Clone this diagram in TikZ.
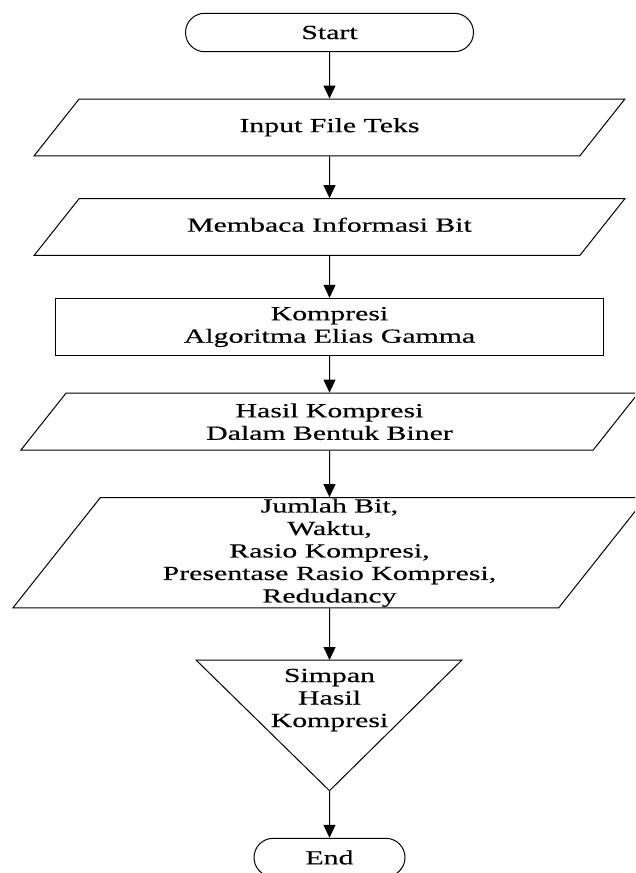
\documentclass[tikz,border=0pt]{standalone}
\usepackage{fontspec}
\setmainfont{Liberation Serif}[FakeStretch=1.49, FakeBold=0.4]
\usetikzlibrary{shapes.geometric, shapes.misc, arrows.meta}

\begin{document}
\begin{tikzpicture}[x=1pt, y=-1pt,
        every node/.style={font=\fontsize{20}{22.5}\selectfont, align=center, inner sep=0pt, line width=1pt},
        terminal/.style={draw, rounded rectangle, minimum height=38.4pt},
        io/.style={draw, trapezium, trapezium left angle=51.6, trapezium right angle=128.4,
            trapezium stretches body},
        oneline/.style={text height=13.7pt, text depth=4.3pt, inner ysep=19.35pt},
        process/.style={draw, rectangle, minimum width=547.2pt, minimum height=57.4pt},
        flow/.style={line width=1pt, -{Triangle[length=13pt, width=12pt]}}]

    \clip (0,0) rectangle (635,873);

    \node[terminal, minimum width=288pt] (start) at (329.5,32.5) {Start};
    \node[io, oneline, minimum width=590.7pt] (input) at (329.5,127.4) {Input File Teks};
    \node[io, oneline, minimum width=590.7pt] (read) at (329.5,227) {Membaca Informasi Bit};
    \node[process] (compress) at (329.5,327) {Kompresi\\Algoritma Elias Gamma};
    \node[io, inner ysep=10.25pt, minimum width=617.5pt] (binary) at (329.5,421.7)
        {Hasil Kompresi\\Dalam Bentuk Biner};
    \node[io, inner ysep=1pt, minimum width=633pt] (result) at (329.5,552.7)
        {Jumlah Bit,\\Waktu,\\Rasio Kompresi,\\Presentase Rasio Kompresi,\\Redudancy};
    \node (save) at (329.5,700) {Simpan\\Hasil\\Kompresi};
    \node[terminal, minimum width=151pt] (end) at (329.5,857.5) {End};

    \coordinate (save-top) at (329.5,660);
    \coordinate (save-tip) at (329.5,790.7);
    \draw[line width=1pt] (196,660) -- (462,660) -- (save-tip) -- cycle;

    \draw[flow] (start) -- (input);
    \draw[flow] (input) -- (read);
    \draw[flow] (read) -- (compress);
    \draw[flow] (compress) -- (binary);
    \draw[flow] (binary) -- (result);
    \draw[flow] (result) -- (save-top);
    \draw[flow] (save-tip) -- (end);
\end{tikzpicture}
\end{document}
